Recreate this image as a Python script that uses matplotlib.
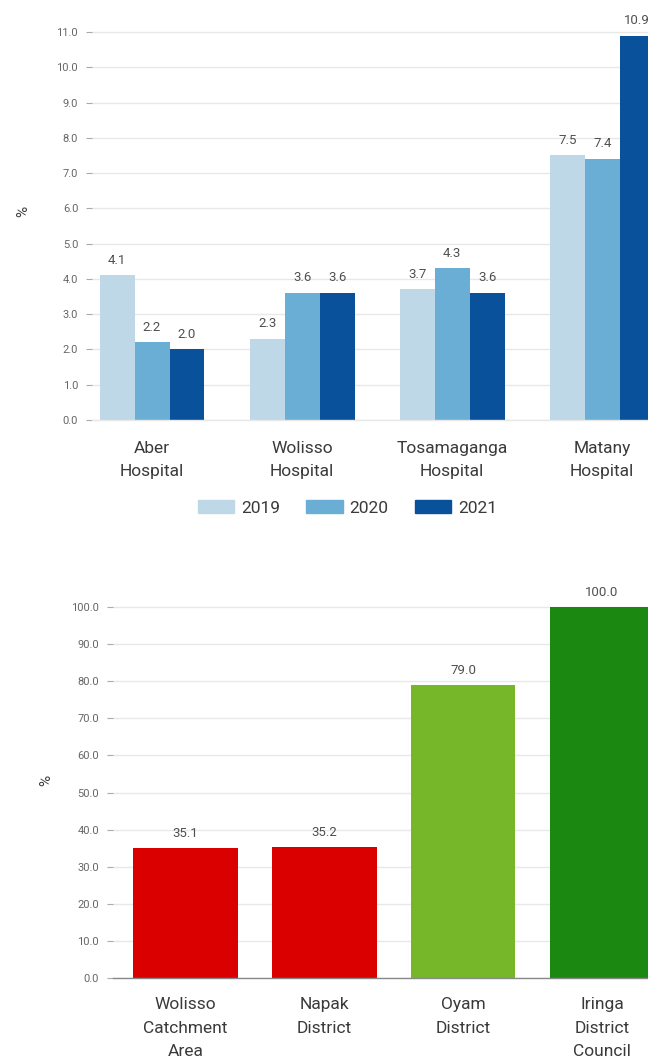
import numpy as np
import matplotlib
matplotlib.use("Agg")
import matplotlib.pyplot as plt
from matplotlib.patches import Patch

plt.rcParams['font.family'] = ['Roboto', 'DejaVu Sans']

# top chart data
hospitals = ["Aber\nHospital", "Wolisso\nHospital", "Tosamaganga\nHospital", "Matany\nHospital"]
years = ["2019", "2020", "2021"]
vals_2019 = [4.1, 2.3, 3.7, 7.5]
vals_2020 = [2.2, 3.6, 4.3, 7.4]
vals_2021 = [2.0, 3.6, 3.6, 10.9]
year_colors = ["#bfd8e7", "#6aaed6", "#0a519c"]

# bottom chart data
areas = ["Wolisso\nCatchment\nArea", "Napak\nDistrict", "Oyam\nDistrict", "Iringa\nDistrict\nCouncil"]
area_vals = [35.1, 35.2, 79.0, 100.0]
area_colors = ["#da0000", "#76b72a", "#1a8811"]
area_color_idx = [0, 0, 1, 2]

TICK_C = "#666666"
TEXT_C = "#3a3a3a"
VAL_C = "#505050"
GRID_C = "#e8e8e8"

fig = plt.figure(figsize=(6.48, 10.63), dpi=100)


def style_axes(ax, base_color, label_pad):
    for s in ["top", "right", "left"]:
        ax.spines[s].set_visible(False)
    ax.spines["bottom"].set_color(base_color)
    ax.spines["bottom"].set_linewidth(1.0)
    ax.yaxis.grid(True, color=GRID_C, linewidth=1.0)
    ax.set_axisbelow(True)
    ax.tick_params(axis="y", length=4, color="#aaaaaa", labelcolor=TICK_C,
                   labelsize=8, pad=6)
    ax.tick_params(axis="x", length=0, labelcolor=TEXT_C, labelsize=12.5,
                   pad=label_pad)
    for lbl in ax.get_xticklabels():
        lbl.set_linespacing(1.7)


# ---- top chart ----
ax1 = fig.add_axes([0.142, 0.6049, 0.88, 0.3716])
x = np.arange(len(hospitals))
w = 0.233
series = [vals_2019, vals_2020, vals_2021]
for i, vals in enumerate(series):
    bars = ax1.bar(x + (i - 1) * w, vals, width=w, color=year_colors[i],
                   label=years[i], zorder=2)
    for b, v in zip(bars, vals):
        ax1.text(b.get_x() + b.get_width() / 2, v + 0.25, "%.1f" % v,
                 ha="center", va="bottom", fontsize=9.5, color=VAL_C)
ax1.set_xlim(-0.4, 3.4)
ax1.set_ylim(0, 11.2)
ax1.set_yticks(np.arange(0, 11.5, 1.0))
ax1.set_yticklabels(["%.1f" % t for t in np.arange(0, 11.5, 1.0)])
ax1.set_xticks(x)
ax1.set_xticklabels(hospitals)
style_axes(ax1, GRID_C, 15)
ax1.set_ylabel("%", fontsize=11, color=TEXT_C)
ax1.yaxis.set_label_coords(-0.109, 0.527)

handles = [Patch(color=c) for c in year_colors]
fig.legend(handles, years, loc="center", bbox_to_anchor=(0.536, 0.522),
           ncol=3, frameon=False, fontsize=12.5, handlelength=2.1,
           handleheight=0.75, columnspacing=1.5, handletextpad=0.4,
           labelcolor=TEXT_C)

# ---- bottom chart ----
ax2 = fig.add_axes([0.1744, 0.08, 0.866, 0.3594])
x2 = np.arange(len(areas))
bars = ax2.bar(x2, area_vals, width=0.755,
               color=[area_colors[k] for k in area_color_idx], zorder=2)
for b, v in zip(bars, area_vals):
    ax2.text(b.get_x() + b.get_width() / 2, v + 2.2, "%.1f" % v,
             ha="center", va="bottom", fontsize=9.5, color=VAL_C)
ax2.set_xlim(-0.52, 3.52)
ax2.set_ylim(0, 103)
yt = np.arange(0, 101, 10.0)
ax2.set_yticks(yt)
ax2.set_yticklabels(["%.1f" % t for t in yt])
ax2.set_xticks(x2)
ax2.set_xticklabels(areas)
style_axes(ax2, "#888888", 14)
ax2.set_ylabel("%", fontsize=11, color=TEXT_C)
ax2.yaxis.set_label_coords(-0.107, 0.518)

fig.savefig("out.png", dpi=100)
